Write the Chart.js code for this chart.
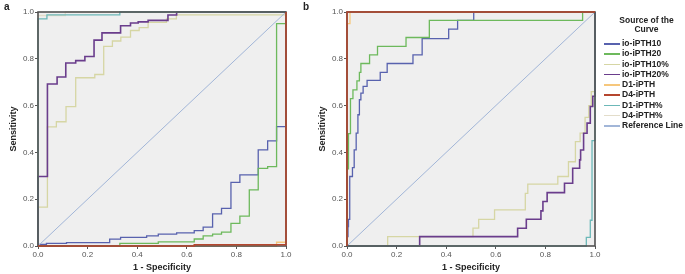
<!DOCTYPE html>
<html><head><meta charset="utf-8">
<script src="https://cdn.jsdelivr.net/npm/chart.js@4/dist/chart.umd.min.js"></script>
<style>
html,body{margin:0;padding:0;background:#fff;width:685px;height:274px;overflow:hidden;font-family:"Liberation Sans",Arial,sans-serif;}
canvas{position:absolute;top:0;}
#ca{left:0;}
#cb{left:309px;}
.plab{position:absolute;font-weight:bold;font-size:10px;color:#222;}
#legend{position:absolute;left:600px;top:16px;width:85px;color:#222;font-weight:bold;font-size:8.5px;}
#legend .ttl{text-align:center;line-height:8.5px;margin-left:8px;margin-bottom:5px;}
#legend .row{position:relative;height:10.25px;line-height:10.25px;white-space:nowrap;}
#legend .sw{position:absolute;left:4px;top:5px;width:16px;height:1.5px;}
#legend .tx{position:absolute;left:22px;top:0;}
</style></head><body>
<canvas id="ca" width="300" height="274"></canvas>
<canvas id="cb" width="300" height="274"></canvas>
<div class="plab" style="left:4px;top:1px;">a</div>
<div class="plab" style="left:303px;top:1px;">b</div>
<div id="legend"></div>
<script>
// ---- data ----
const seriesNames = ['io-iPTH10','io-iPTH20','io-iPTH10%','io-iPTH20%','D1-iPTH','D4-iPTH','D1-iPTH%','D4-iPTH%','Reference Line'];
const legendTitle = ['Source of the','Curve'];
const tickValues = [0, 0.2, 0.4, 0.6, 0.8, 1.0];
const xTitle = '1 - Specificity';
const yTitle = 'Sensitivity';

// Panel a  (x = 1 - specificity, y = sensitivity)
const aIoIpth10X  = [0,0,0.034,0.115,0.289,0.333,0.438,0.485,0.559,0.63,0.666,0.704,0.740,0.778,0.814,0.888,0.926,0.962,1.0];
const aIoIpth10Y  = [0,0.007,0.011,0.014,0.029,0.037,0.043,0.051,0.056,0.066,0.081,0.137,0.161,0.272,0.304,0.411,0.449,0.51,1.0];
const aIoIpth20X  = [0,0.33,0.485,0.63,0.666,0.704,0.74,0.778,0.814,0.852,0.888,0.926,0.962,1.0];
const aIoIpth20Y  = [0,0.011,0.018,0.03,0.043,0.051,0.059,0.097,0.128,0.24,0.332,0.339,0.95,1.0];
const aIoIpth10pX = [0,0,0.038,0.074,0.113,0.152,0.229,0.265,0.300,0.334,0.373,0.408,0.444,0.518,0.558,1.0,1.0];
const aIoIpth10pY = [0,0.166,0.509,0.531,0.596,0.719,0.733,0.853,0.876,0.893,0.921,0.933,0.956,0.971,0.988,0.988,1.0];
const aIoIpth20pX = [0,0,0.038,0.077,0.112,0.152,0.189,0.226,0.258,0.333,0.373,0.404,0.444,0.524,0.559,1.0];
const aIoIpth20pY = [0,0.297,0.692,0.722,0.782,0.792,0.81,0.88,0.911,0.941,0.953,0.958,0.964,0.987,1.0,1.0];
const aD1IpthX    = [0,0.962,1.0,1.0];
const aD1IpthY    = [0,0.016,0.016,1.0];
const aD4IpthX    = [0,0.63,1.0,1.0];
const aD4IpthY    = [0,0.005,0.005,1.0];
const aD1IpthpX   = [0,0,0.036,0.33,1.0];
const aD1IpthpY   = [0,0.971,0.988,1.0,1.0];
const aD4IpthpX   = [0,0,0.11,1.0];
const aD4IpthpY   = [0,0.985,1.0,1.0];

// Panel b
const bIoIpth10X  = [0,0,0.004,0.006,0.011,0.022,0.029,0.037,0.044,0.050,0.056,0.065,0.081,0.134,0.162,0.266,0.303,0.41,0.446,0.511,1.0];
const bIoIpth10Y  = [0,0.04,0.083,0.114,0.297,0.335,0.411,0.482,0.561,0.625,0.653,0.682,0.708,0.742,0.78,0.817,0.886,0.927,0.964,1.0,1.0];
const bIoIpth20X  = [0,0,0.006,0.014,0.024,0.040,0.050,0.056,0.091,0.123,0.238,0.332,0.950,1.0];
const bIoIpth20Y  = [0,0.33,0.48,0.63,0.667,0.706,0.742,0.78,0.817,0.853,0.891,0.964,1.0,1.0];
const bIoIpth10pX = [0,0.164,0.508,0.531,0.595,0.719,0.729,0.85,0.893,0.921,0.94,0.96,0.975,0.985,1.0];
const bIoIpth10pY = [0,0.04,0.076,0.114,0.154,0.225,0.264,0.297,0.36,0.446,0.482,0.55,0.6,0.66,1.0];
const bIoIpth20pX = [0,0.293,0.688,0.723,0.782,0.79,0.807,0.877,0.91,0.938,0.942,0.954,0.968,0.981,0.991,1.0];
const bIoIpth20pY = [0,0.04,0.076,0.114,0.15,0.19,0.228,0.268,0.332,0.368,0.41,0.482,0.525,0.596,0.64,1.0];
const bD1IpthX    = [0,0,0.012,1.0];
const bD1IpthY    = [0,0.95,1.0,1.0];
const bD4IpthX    = [0,0,1.0];
const bD4IpthY    = [0,1.0,1.0];
const bD1IpthpX   = [0,0.965,0.981,0.988,1.0];
const bD1IpthpY   = [0,0.037,0.11,0.45,1.0];
const bD4IpthpX   = [0,0,1.0];
const bD4IpthpY   = [0,1.0,1.0];

const refX = [0, 1];
const refY = [0, 1];

// ---- styles ----
const seriesColors = ['#5862ae','#6db95c','#d6d6a4','#6a3d8c','#f6c77c','#b5462e','#6cb8b8','#e3ddca','#a2b6d8'];
const seriesWidths = [1.3,1.3,1.3,1.6,1.3,1.5,1.3,1.3,1];

function pts(xs, ys){ return xs.map((x,j)=>({x:x, y:ys[j]})); }

const panelA = [[aIoIpth10X,aIoIpth10Y],[aIoIpth20X,aIoIpth20Y],[aIoIpth10pX,aIoIpth10pY],[aIoIpth20pX,aIoIpth20pY],
  [aD1IpthX,aD1IpthY],[aD4IpthX,aD4IpthY],[aD1IpthpX,aD1IpthpY],[aD4IpthpX,aD4IpthpY],[refX,refY]];
const panelB = [[bIoIpth10X,bIoIpth10Y],[bIoIpth20X,bIoIpth20Y],[bIoIpth10pX,bIoIpth10pY],[bIoIpth20pX,bIoIpth20pY],
  [bD1IpthX,bD1IpthY],[bD4IpthX,bD4IpthY],[bD1IpthpX,bD1IpthpY],[bD4IpthpX,bD4IpthpY],[refX,refY]];
// drawing order: lower value drawn on top
const drawOrder = [8,7,6,5,4,0,3,9,2];
const FRAME_BEFORE = 5; // frame is drawn just before D4-iPTH

const frame = {
  id:'frame',
  beforeDatasetsDraw(chart){
    const a = chart.chartArea, c = chart.ctx;
    c.save();
    c.fillStyle = '#efefef';
    c.fillRect(a.left, a.top, a.right-a.left, a.bottom-a.top);
    c.restore();
  },
  beforeDatasetDraw(chart, args){
    if (args.index !== FRAME_BEFORE) return;
    const a = chart.chartArea, c = chart.ctx;
    c.save();
    c.strokeStyle = '#505050';
    c.lineWidth = 1.6;
    c.strokeRect(a.left, a.top, a.right-a.left, a.bottom-a.top);
    c.restore();
  }
};

function makeChart(id, panel){
  const datasets = panel.map((p,i)=>({
    label: seriesNames[i],
    data: pts(p[0], p[1]),
    borderColor: seriesColors[i],
    borderWidth: seriesWidths[i],
    pointRadius: 0,
    fill: false,
    stepped: i === 8 ? false : 'before',
    tension: 0,
    clip: 3,
    order: drawOrder[i]
  }));
  const tickFont = {family:'"Liberation Sans", Arial, sans-serif', size:8};
  const titleFont = {family:'"Liberation Sans", Arial, sans-serif', size:9, weight:'bold'};
  return new Chart(document.getElementById(id), {
    type:'line',
    data:{datasets},
    plugins:[frame],
    options:{
      responsive:false, animation:false, events:[],
      layout:{padding:{top:12,right:14,left:0,bottom:0}},
      plugins:{legend:{display:false}, tooltip:{enabled:false}},
      scales:{
        x:{type:'linear', min:0, max:1,
          afterBuildTicks(ax){ ax.ticks = tickValues.map(v=>({value:v})); },
          afterFit(ax){ ax.height = 28; },
          grid:{display:true, drawOnChartArea:false, tickLength:3, color:'#555'},
          border:{display:false},
          ticks:{font:tickFont, color:'#555', padding:1, maxRotation:0, callback:v=>v.toFixed(1)},
          title:{display:true, text:xTitle, font:titleFont, color:'#222', padding:{top:0,bottom:1}}
        },
        y:{type:'linear', min:0, max:1,
          afterBuildTicks(ax){ ax.ticks = tickValues.map(v=>({value:v})); },
          afterFit(ax){ ax.width = 38; },
          grid:{display:true, drawOnChartArea:false, tickLength:3, color:'#555'},
          border:{display:false},
          ticks:{font:tickFont, color:'#555', padding:1, callback:v=>v.toFixed(1)},
          title:{display:true, text:yTitle, font:titleFont, color:'#222', padding:{top:8,bottom:0}}
        }
      }
    }
  });
}
makeChart('ca', panelA);
makeChart('cb', panelB);

// legend
const lg = document.getElementById('legend');
const t = document.createElement('div'); t.className='ttl';
t.innerHTML = legendTitle.join('<br>');
lg.appendChild(t);
seriesNames.forEach((n,i)=>{
  const r = document.createElement('div'); r.className='row';
  const s = document.createElement('div'); s.className='sw'; s.style.background = seriesColors[i];
  const tx = document.createElement('div'); tx.className='tx'; tx.textContent = n;
  r.appendChild(s); r.appendChild(tx); lg.appendChild(r);
});
</script>
</body></html>
